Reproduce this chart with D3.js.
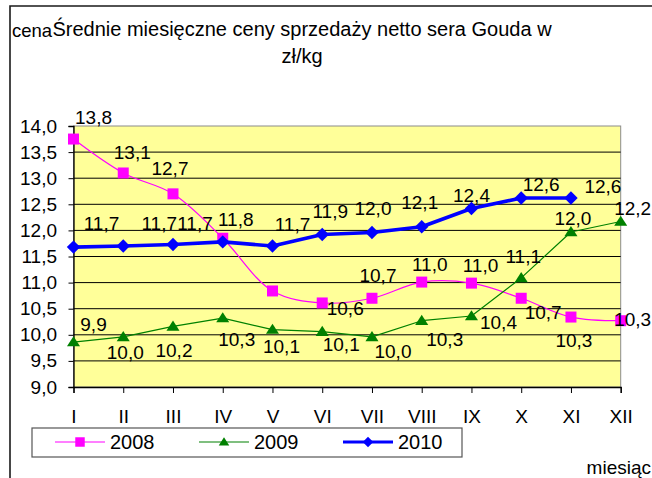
<!DOCTYPE html>
<html lang="pl">
<head>
<meta charset="UTF-8">
<title>Średnie miesięczne ceny sprzedaży netto sera Gouda</title>
<script src="https://d3js.org/d3.v7.min.js"></script>
<style>
    body { margin: 0; background: #fff; }
    svg text { font-family: "Liberation Sans", Arial, sans-serif; fill: #000; }
    .tick text { font-size: 19px; }
    .lbl { font-size: 19px; }
</style>
</head>
<body>
<div id="chart"></div>
<script>
    // data
    var months = ["I", "II", "III", "IV", "V", "VI", "VII", "VIII", "IX", "X", "XI", "XII"];
    var yTicks = [9.0, 9.5, 10.0, 10.5, 11.0, 11.5, 12.0, 12.5, 13.0, 13.5, 14.0];
    var years = ["2008", "2009", "2010"];
    var s2008 = [13.75, 13.10, 12.70, 11.85, 10.84, 10.61, 10.70, 11.01, 10.99, 10.70, 10.34, 10.27];
    var s2009 = [9.86, 9.96, 10.16, 10.32, 10.10, 10.06, 9.96, 10.27, 10.36, 11.09, 11.97, 12.17];
    var s2010 = [11.68, 11.70, 11.73, 11.78, 11.70, 11.92, 11.96, 12.07, 12.42, 12.62, 12.62];

    // where each value label sits relative to its point (null = no label)
    var lab2008 = [[20,-22],[9,-21],[-3,-26],null,null,[23,5],[6,-23],[8,-18],[9,-18],[22,14],[3,23],[12,-1]];
    var lab2009 = [[20,-18],[2,15],[1,24],[14,21],[9,17],[19,13],[21,14],[23,19],[27,6],[2,-22],[2,-14],[12,-13]];
    var lab2010 = [[28,-24],[36,-23],[22,-21],[13,-23],[20,-22],[8,-23],[1,-24],[-2,-24],[0,-13],[20,-14],[32,-12]];

    var W = 652, H = 478;
    var plot = {left: 73.5, right: 620.7, top: 126, bottom: 387};

    var pl = d3.formatLocale({decimal: ",", thousands: " ", grouping: [3], currency: ["", " zł"]});
    var fmt = pl.format(".1f");

    var svg = d3.select("#chart").append("svg")
        .attr("width", W)
        .attr("height", H);

    var x = d3.scalePoint().domain(months).range([plot.left, plot.right]).padding(0);
    var y = d3.scaleLinear().domain([9, 14]).range([plot.bottom, plot.top]);

    // outer chart frame (runs off right and bottom)
    svg.append("path")
        .attr("d", "M10," + H + "V6H" + W)
        .attr("fill", "none")
        .attr("stroke", "#1a1a1a")
        .attr("stroke-width", 1.6);

    // plot area
    svg.append("rect")
        .attr("x", plot.left).attr("y", plot.top)
        .attr("width", plot.right - plot.left)
        .attr("height", plot.bottom - plot.top)
        .attr("fill", "#ffff99")
        .attr("stroke", "#8c8c8c")
        .attr("stroke-width", 1);

    svg.append("g")
        .selectAll("line")
        .data(yTicks.filter(function(t) { return t > 9 && t < 14; }))
        .enter().append("line")
        .attr("x1", plot.left).attr("x2", plot.right)
        .attr("y1", function(d) { return y(d); })
        .attr("y2", function(d) { return y(d); })
        .attr("stroke", "#000")
        .attr("stroke-width", 1);

    var yAxis = svg.append("g")
        .attr("transform", "translate(" + plot.left + ",0)")
        .call(d3.axisLeft(y).tickValues(yTicks).tickSize(5).tickPadding(11.5).tickFormat(fmt));

    var xAxis = svg.append("g")
        .attr("transform", "translate(0," + plot.bottom + ")")
        .call(d3.axisBottom(x).tickSize(6).tickPadding(17));

    [yAxis, xAxis].forEach(function(a) {
        a.select(".domain").attr("stroke", "#000").attr("stroke-width", 1.3);
        a.selectAll(".tick line").attr("stroke", "#000");
        a.selectAll(".tick text").attr("fill", "#000").style("font-family", "'Liberation Sans', Arial, sans-serif");
    });

    // marker shapes
    var diamond = {
        draw: function(c, s) {
            var r = Math.sqrt(s) / 2;
            c.moveTo(0, -r); c.lineTo(r, 0); c.lineTo(0, r); c.lineTo(-r, 0); c.closePath();
        }
    };
    var triangle = {
        draw: function(c, s) {
            var r = Math.sqrt(s) / 2;
            c.moveTo(0, -r * 0.9); c.lineTo(r, r * 0.65); c.lineTo(-r, r * 0.65); c.closePath();
        }
    };

    var series = [
        {name: years[0], values: s2008, labels: lab2008, color: "#ff00ff", width: 1.2, curve: d3.curveCatmullRom, shape: d3.symbolSquare, size: 121, legendSize: 90},
        {name: years[1], values: s2009, labels: lab2009, color: "#008000", width: 1.2, curve: d3.curveLinear, shape: triangle, size: 170, legendSize: 110},
        {name: years[2], values: s2010, labels: lab2010, color: "#0000ff", width: 3.6, curve: d3.curveLinear, shape: diamond, size: 180, legendSize: 110}
    ];

    series.forEach(function(s) {
        var line = d3.line()
            .x(function(d, i) { return x(months[i]); })
            .y(function(d) { return y(d); })
            .curve(s.curve);

        var g = svg.append("g");
        g.append("path")
            .datum(s.values)
            .attr("d", line)
            .attr("fill", "none")
            .attr("stroke", s.color)
            .attr("stroke-width", s.width)
            .attr("stroke-linejoin", "round");

        g.selectAll("path.m")
            .data(s.values)
            .enter().append("path")
            .attr("class", "m")
            .attr("d", d3.symbol().type(s.shape).size(s.size))
            .attr("transform", function(d, i) { return "translate(" + x(months[i]) + "," + y(d) + ")"; })
            .attr("fill", s.color);
    });

    // value labels on top
    series.forEach(function(s) {
        svg.append("g")
            .selectAll("text")
            .data(s.values.map(function(v, i) { return {v: v, i: i, off: s.labels[i]}; })
                .filter(function(d) { return d.off; }))
            .enter().append("text")
            .attr("class", "lbl")
            .attr("x", function(d) { return x(months[d.i]) + d.off[0]; })
            .attr("y", function(d) { return y(d.v) + d.off[1]; })
            .attr("dy", "0.35em")
            .attr("text-anchor", "middle")
            .text(function(d) { return fmt(d.v); });
    });

    // title and axis captions
    svg.append("text")
        .attr("x", 302).attr("y", 36)
        .attr("text-anchor", "middle")
        .style("font-size", "20px")
        .text("Średnie miesięczne ceny sprzedaży netto sera Gouda w");
    svg.append("text")
        .attr("x", 302).attr("y", 63)
        .attr("text-anchor", "middle")
        .style("font-size", "20px")
        .text("zł/kg");
    svg.append("text")
        .attr("x", 12).attr("y", 37)
        .style("font-size", "18.5px")
        .text("cena");
    svg.append("text")
        .attr("x", 651).attr("y", 474)
        .attr("text-anchor", "end")
        .style("font-size", "19px")
        .text("miesiąc");

    // legend
    var legend = svg.append("g");
    legend.append("rect")
        .attr("x", 32).attr("y", 428)
        .attr("width", 430).attr("height", 29)
        .attr("fill", "#fff")
        .attr("stroke", "#555")
        .attr("stroke-width", 1.2);

    var item = legend.selectAll("g.item")
        .data(series)
        .enter().append("g")
        .attr("class", "item")
        .attr("transform", function(d, i) { return "translate(" + (55 + i * 144) + ",442)"; });

    item.append("line")
        .attr("x1", 0).attr("x2", 50)
        .attr("stroke", function(d) { return d.color; })
        .attr("stroke-width", function(d) { return d.width < 2 ? 1.2 : 3; });
    item.append("path")
        .attr("d", function(d) { return d3.symbol().type(d.shape).size(d.legendSize)(); })
        .attr("transform", "translate(25,0)")
        .attr("fill", function(d) { return d.color; });
    item.append("text")
        .attr("x", 55).attr("y", 7)
        .style("font-size", "20px")
        .text(function(d) { return d.name; });
</script>
</body>
</html>
